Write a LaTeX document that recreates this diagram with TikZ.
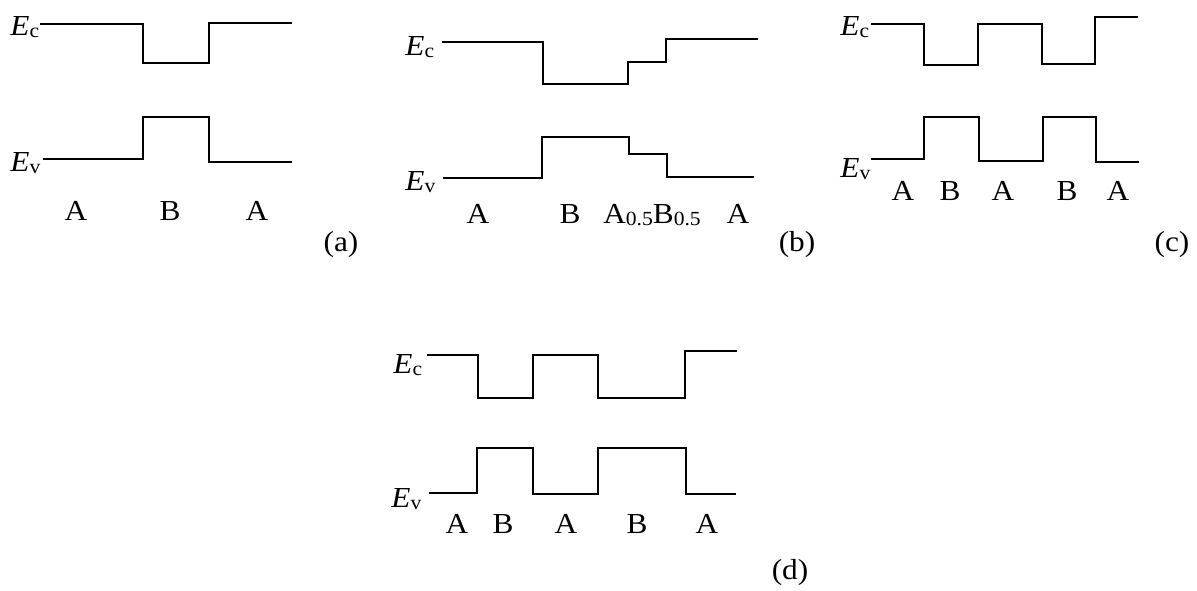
\documentclass[tikz,border=0pt]{standalone}
\usepackage{fontspec}
\setmainfont[FakeStretch=1.08]{Liberation Serif}
\newcommand{\mysb}[1]{{\fontsize{10}{10}\selectfont\raisebox{-0.3ex}{#1}}}
\begin{document}
\begin{tikzpicture}[x=0.5pt,y=-0.5pt,
  band/.style={line width=1pt},
  lbl/.style={inner sep=0pt,font=\fontsize{14.5}{16}\selectfont},
  elbl/.style={lbl,anchor=base west}]
\useasboundingbox (0,0) rectangle (1197,590);
% ---------- (a)
\node[elbl] (aEc) at (10,35) {\textit{E}\mysb{c}};
\node[elbl] (aEv) at (10,171) {\textit{E}\mysb{v}};
\draw[band] (40,24) -- (143,24) -- (143,63) -- (209,63) -- (209,23) -- (292,23);
\draw[band] (43,159) -- (143,159) -- (143,117) -- (209,117) -- (209,162) -- (292,162);
\node[lbl,anchor=base] (aA1) at (76,220) {A};
\node[lbl,anchor=base] (aB) at (170,220) {B};
\node[lbl,anchor=base] (aA2) at (257,220) {A};
\node[lbl,anchor=base] (la) at (341,251) {(a)};
% ---------- (b)
\node[elbl] (bEc) at (405,55) {\textit{E}\mysb{c}};
\node[elbl] (bEv) at (405,190) {\textit{E}\mysb{v}};
\draw[band] (442,42) -- (543,42) -- (543,84) -- (628,84) -- (628,62) -- (666,62) -- (666,39) -- (758,39);
\draw[band] (443,178) -- (542,178) -- (542,137) -- (629,137) -- (629,154) -- (667,154) -- (667,177) -- (754,177);
\node[lbl,anchor=base] (bA1) at (478,223) {A};
\node[lbl,anchor=base] (bB) at (570,223) {B};
\node[lbl,anchor=base] (bAB) at (652,223) {A\mysb{0.5}B\mysb{0.5}};
\node[lbl,anchor=base] (bA2) at (738,223) {A};
\node[lbl,anchor=base] (lb) at (797,251) {(b)};
% ---------- (c)
\node[elbl] (cEc) at (840,35) {\textit{E}\mysb{c}};
\node[elbl] (cEv) at (840,177) {\textit{E}\mysb{v}};
\draw[band] (871,24) -- (924,24) -- (924,65) -- (978,65) -- (978,24) -- (1042,24) -- (1042,64) -- (1095,64) -- (1095,17) -- (1138,17);
\draw[band] (871,159) -- (924,159) -- (924,117) -- (979,117) -- (979,161) -- (1043,161) -- (1043,117) -- (1096,117) -- (1096,162) -- (1139,162);
\node[lbl,anchor=base] (cA1) at (903,200) {A};
\node[lbl,anchor=base] (cB1) at (950,200) {B};
\node[lbl,anchor=base] (cA2) at (1003,200) {A};
\node[lbl,anchor=base] (cB2) at (1067,200) {B};
\node[lbl,anchor=base] (cA3) at (1118,200) {A};
\node[lbl,anchor=base] (lc) at (1172,251) {(c)};
% ---------- (d)
\node[elbl] (dEc) at (393,373) {\textit{E}\mysb{c}};
\node[elbl] (dEv) at (391,507) {\textit{E}\mysb{v}};
\draw[band] (427,355) -- (478,355) -- (478,398) -- (533,398) -- (533,355) -- (598,355) -- (598,398) -- (685,398) -- (685,351) -- (737,351);
\draw[band] (429,493) -- (477,493) -- (477,448) -- (533,448) -- (533,494) -- (598,494) -- (598,448) -- (686,448) -- (686,494) -- (736,494);
\node[lbl,anchor=base] (dA1) at (457,533) {A};
\node[lbl,anchor=base] (dB1) at (503,533) {B};
\node[lbl,anchor=base] (dA2) at (566,533) {A};
\node[lbl,anchor=base] (dB2) at (637,533) {B};
\node[lbl,anchor=base] (dA3) at (707,533) {A};
\node[lbl,anchor=base] (ld) at (790,579) {(d)};
\end{tikzpicture}
\end{document}
